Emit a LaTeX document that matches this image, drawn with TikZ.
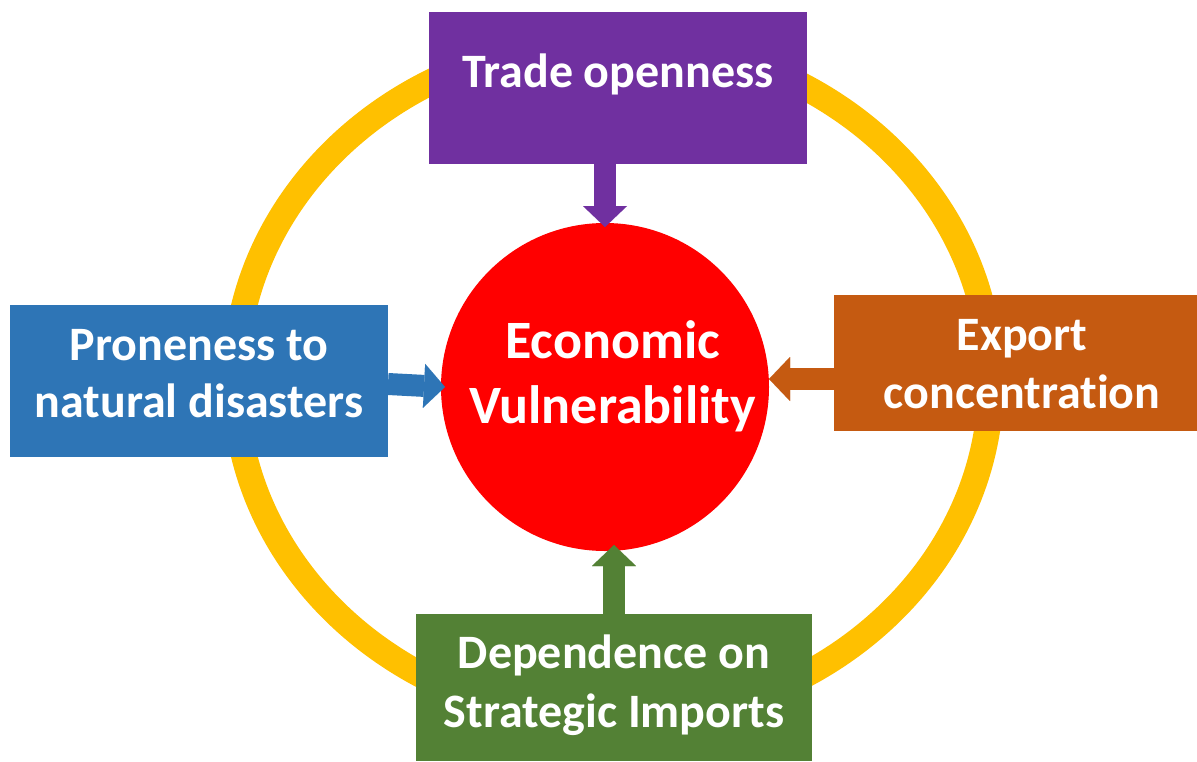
\documentclass[tikz,border=0pt]{standalone}
\usepackage{fontspec}
\setmainfont{Carlito}[Ligatures=NoCommon]
\usetikzlibrary{arrows.meta,shapes.geometric}
\definecolor{ringY}{HTML}{FFC000}
\definecolor{trpurple}{HTML}{7030A0}
\definecolor{prblue}{HTML}{2E75B6}
\definecolor{exorange}{HTML}{C55A11}
\definecolor{imgreen}{HTML}{538135}
\definecolor{ecred}{HTML}{FF0000}
\begin{document}
\begin{tikzpicture}[x=1pt,y=-1pt,
  box/.style={rectangle,inner sep=0pt,outer sep=0pt},
  lbl/.style={anchor=base,text=white,font=\fontsize{48}{58}\selectfont\bfseries,inner sep=0pt},
  biglbl/.style={lbl,font=\fontsize{54}{65}\selectfont\bfseries},
  blockarrow/.style={line width=22pt,-{Triangle[width=44pt,length=21pt,line width=0.01pt]}}]
\useasboundingbox (0,0) rectangle (1197,761);
\fill[white] (0,0) rectangle (1197,761);
\node[ellipse,draw=ringY,line width=26pt,inner sep=0pt,outer sep=0pt,minimum width=756pt,minimum height=682pt] (ring) at (613,381) {};
\node[box,fill=trpurple,minimum width=378pt,minimum height=152pt] (trade) at (618,88) {};
\node[box,fill=prblue,minimum width=378pt,minimum height=152pt] (prone) at (199,381) {};
\node[box,fill=exorange,minimum width=363pt,minimum height=136pt] (export) at (1015.5,363) {};
\node[box,fill=imgreen,minimum width=396pt,minimum height=147pt] (imports) at (614,687.5) {};
\node[circle,fill=ecred,inner sep=0pt,outer sep=0pt,minimum size=328pt] (econ) at (605,387) {};
\draw[blockarrow,trpurple] (trade.south -| econ.north) -- ([yshift=-4pt]econ.north);
\draw[blockarrow,prblue] ([yshift=-3pt]prone.east) -- ([xshift=4pt]econ.west);
\draw[blockarrow,exorange] ([yshift=-16pt]export.west) -- ([yshift=8pt]econ.east);
\draw[blockarrow,imgreen] (imports.north) -- ([yshift=6pt]imports.north |- econ.south);
\node[lbl] (tradet) at (618,87) {Trade openness};
\node[lbl] (pronet1) at (199,360) {Proneness to};
\node[lbl] (pronet2) at (199,417) {natural disasters};
\node[lbl] (expt1) at (1022,350) {Export};
\node[lbl] (expt2) at (1022,408) {concentration};
\node[lbl] (impt1) at (614,668) {Dependence on};
\node[lbl] (impt2) at (614,727) {Strategic Imports};
\node[biglbl] (econt1) at (612.5,358) {Economic};
\node[biglbl] (econt2) at (612.5,423) {Vulnerability};
\end{tikzpicture}
\end{document}
